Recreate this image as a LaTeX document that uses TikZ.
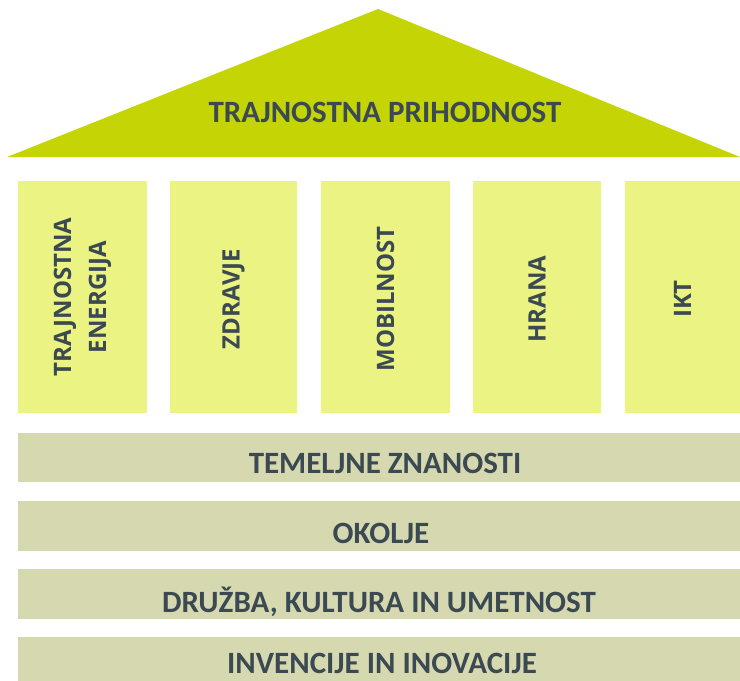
\documentclass[tikz,border=0pt]{standalone}
\usepackage{fontspec}
\newfontfamily\calfont{Carlito}
\newfontfamily\opfont{Open Sans}
\definecolor{roofgreen}{HTML}{C5D405}
\definecolor{pillarcol}{HTML}{EBF383}
\definecolor{bandcol}{HTML}{D6D9B0}
\definecolor{txtcol}{HTML}{3B4A52}
\begin{document}
\begin{tikzpicture}[x=1pt,y=-1pt,
	rooftext/.style={anchor=base,text=txtcol,font=\calfont\bfseries\fontsize{31}{32}\selectfont},
	bandtext/.style={anchor=base,text=txtcol,font=\calfont\bfseries\fontsize{31}{32}\selectfont},
	pillartext/.style={rotate=90,align=center,text=txtcol,inner sep=0pt,font=\opfont\bfseries\fontsize{24}{35}\selectfont}]
	\useasboundingbox (0,0) rectangle (740,681);
	% roof
	\fill[roofgreen] (7,157) -- (378,9) -- (740,157) -- cycle;
	\node[rooftext] (roof) at (385,122) {TRAJNOSTNA PRIHODNOST};
	% pillars
	\fill[pillarcol] (18,181) rectangle (147,413);
	\fill[pillarcol] (170,181) rectangle (297,413);
	\fill[pillarcol] (321,181) rectangle (450,413);
	\fill[pillarcol] (473,181) rectangle (601,413);
	\fill[pillarcol] (625,181) rectangle (740,413);
	\node[pillartext] (energija) at (82.5,297) {TRAJNOSTNA\\ENERGIJA};
	\node[pillartext] (zdravje) at (233.5,299) {ZDRAVJE};
	\node[pillartext] (mobilnost) at (385.5,299) {MOBILNOST};
	\node[pillartext] (hrana) at (537,299) {HRANA};
	\node[pillartext] (ikt) at (682.5,299) {IKT};
	% foundations
	\fill[bandcol] (18,433) rectangle (740,482);
	\fill[bandcol] (18,501) rectangle (740,551);
	\fill[bandcol] (18,569) rectangle (740,619);
	\fill[bandcol] (18,637) rectangle (740,681);
	\node[bandtext] (temelj) at (385,473) {TEMELJNE ZNANOSTI};
	\node[bandtext] (okolje) at (381,543) {OKOLJE};
	\node[bandtext] (druzba) at (379,612) {DRUŽBA, KULTURA IN UMETNOST};
	\node[bandtext] (invencije) at (382,673) {INVENCIJE IN INOVACIJE};
\end{tikzpicture}
\end{document}
